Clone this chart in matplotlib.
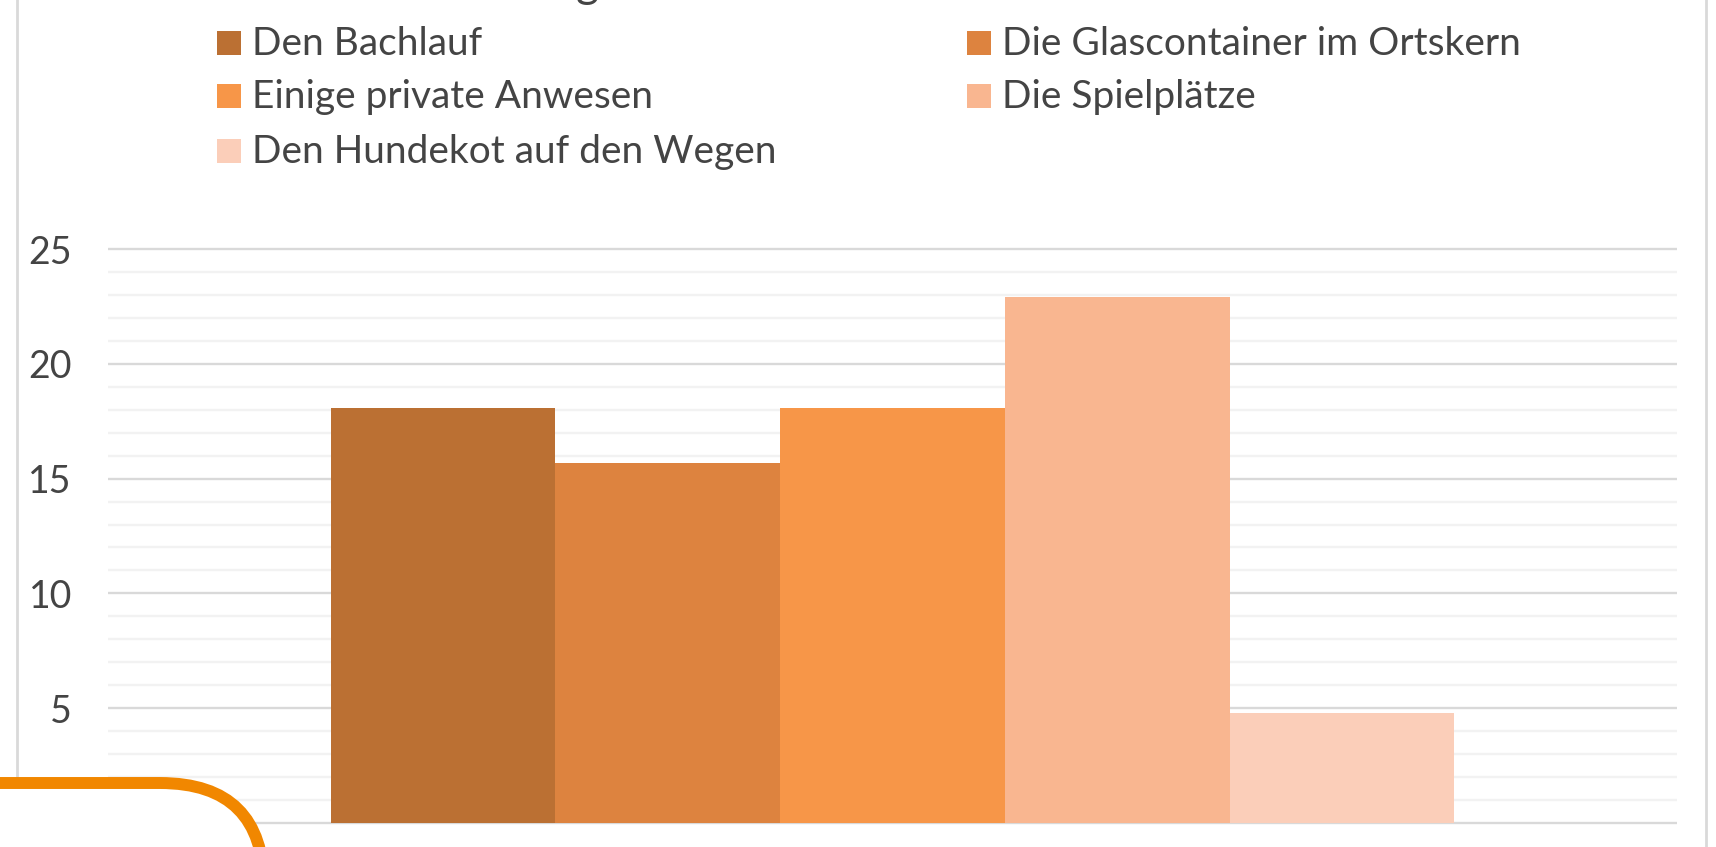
import numpy as np
import matplotlib
matplotlib.use("Agg")
import matplotlib.pyplot as plt
from matplotlib.ticker import MultipleLocator
from matplotlib.patches import Rectangle, FancyBboxPatch
from matplotlib.transforms import IdentityTransform

# ---- data ----
series = ["Den Bachlauf", "Die Glascontainer im Ortskern", "Einige private Anwesen",
          "Die Spielplätze", "Den Hundekot auf den Wegen"]
values = [18.1, 15.7, 18.1, 22.9, 4.8]
colors = ["#BB7033", "#DD833F", "#F79648", "#F9B690", "#FBCEB9"]
yticks = [0, 5, 10, 15, 20, 25]

W, H = 1716, 847
plt.rcParams['font.family'] = ['Lato', 'DejaVu Sans']
TXT = "#444444"
FS_LEG = 28  # pt
FS_TICK = 27

fig = plt.figure(figsize=(W / 100, H / 100), dpi=100)
fig.patch.set_facecolor("white")

# axes placement (pixels)
px_per_unit = (822.7 - 249.3) / 25.0
ext = 0.1
y_bot = 822.7 + ext * px_per_unit
y_top = 249.3 - ext * px_per_unit
ax = fig.add_axes([108 / W, (H - y_bot) / H, (1677 - 108) / W, (y_bot - y_top) / H])

n = len(values)
pos = np.arange(n) - (n - 1) / 2
ax.bar(pos, values, width=1.0, color=colors, zorder=3)
half = (1677 - 108) / 224.7 / 2
ax.set_xlim(-half, half)
ax.set_ylim(-ext, 25 + ext)

ax.set_yticks(yticks)
ax.yaxis.set_minor_locator(MultipleLocator(1))
ax.set_xticks([])
ax.tick_params(axis='y', which='both', length=0, pad=26, labelsize=FS_TICK, labelcolor=TXT)
ax.grid(which='major', axis='y', color='#d9d9d9', linewidth=1.7, zorder=0)
ax.grid(which='minor', axis='y', color='#f2f2f2', linewidth=1.7, zorder=0)
ax.set_axisbelow(True)
for s in ax.spines.values():
    s.set_visible(False)

# chart border (extends beyond the canvas top/bottom)
fig.patches.append(Rectangle((17 / W, -0.05), (1706 - 17) / W, 1.1, transform=fig.transFigure,
                             fill=False, edgecolor='#d9d9d9', linewidth=2))

# cropped title: only a descender peeks in
fig.text(576 / W, 1 + 3 / H, "g", fontsize=32, color=TXT, ha='left', va='baseline')

# legend (manual, two columns, row-wise order)
col_x = [217, 967]
row_y = [43, 96, 151]
sq = 24
for i, (lab, c) in enumerate(zip(series, colors)):
    r, k = divmod(i, 2)
    x0, yc = col_x[k], row_y[r]
    fig.patches.append(Rectangle((x0 / W, (H - yc - sq / 2) / H), sq / W, sq / H,
                                 transform=fig.transFigure, facecolor=c, edgecolor='none'))
    fig.text((x0 + 35) / W, (H - yc - 1) / H, lab, fontsize=FS_LEG, color=TXT,
             ha='left', va='center')

# orange rounded-corner decoration at bottom left
deco = FancyBboxPatch((-300, -300), 264 + 300, (H - 783) + 300,
                      boxstyle="round,pad=0,rounding_size=104",
                      transform=IdentityTransform(), facecolor='white',
                      edgecolor='#F18700', linewidth=8.6, zorder=10)
fig.patches.append(deco)

fig.savefig("out.png", dpi=100)
